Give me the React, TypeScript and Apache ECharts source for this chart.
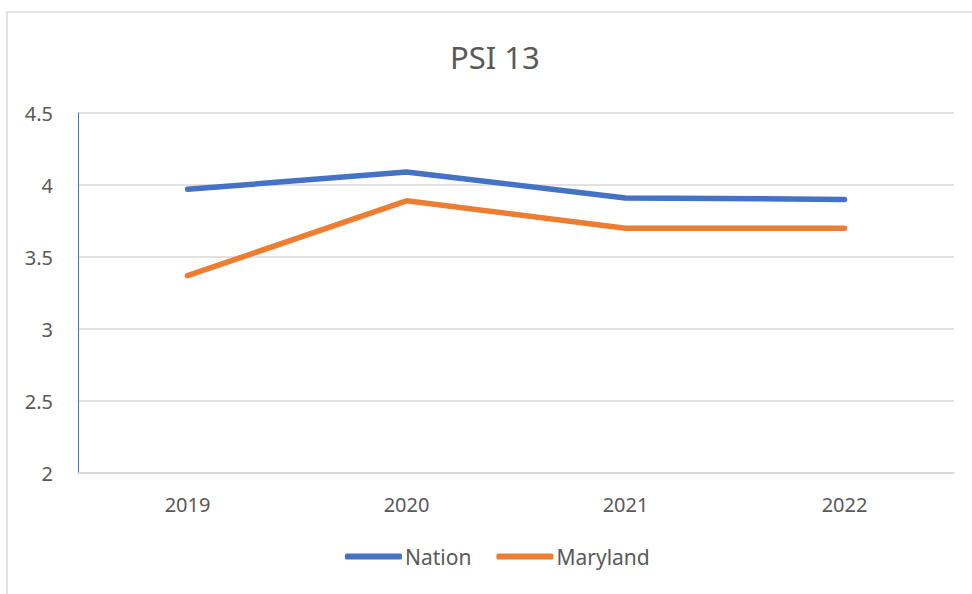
import React, { useEffect, useRef } from "react";
import * as echarts from "echarts";

const categories = ["2019", "2020", "2021", "2022"];
const nation = [3.97, 4.09, 3.91, 3.9];
const maryland = [3.37, 3.89, 3.7, 3.7];
const titleText = "PSI 13";
const seriesNames = ["Nation", "Maryland"];

const FONT = "'Noto Sans', 'Open Sans', sans-serif";
const TXT = "#595959";

export default function App() {
  const ref = useRef<HTMLDivElement>(null);
  useEffect(() => {
    document.body.style.margin = "0";
    const chart = echarts.init(ref.current!, null, { renderer: "svg" });
    chart.setOption({
      animation: false,
      backgroundColor: "#ffffff",
      textStyle: { fontFamily: FONT },
      title: {
        text: titleText,
        left: 445,
        top: 36,
        textStyle: { fontFamily: FONT, fontSize: 31, fontWeight: "normal", color: TXT },
      },
      graphic: [
        {
          type: "rect",
          shape: { x: 7, y: 12, width: 1200, height: 1200 },
          style: { fill: "none", stroke: "#d9d9d9", lineWidth: 1.5 },
          silent: true,
          z: -1,
        },
      ],
      legend: {
        bottom: 22,
        left: 340,
        icon: "roundRect",
        itemWidth: 57,
        itemHeight: 6,
        itemGap: 25,
        textStyle: { fontFamily: FONT, fontSize: 21, color: TXT, padding: [0, 0, 0, -2] },
        data: seriesNames,
      },
      grid: { left: 78, right: 18, top: 113, bottom: 121, containLabel: false },
      xAxis: {
        type: "category",
        data: categories,
        boundaryGap: true,
        axisLine: { show: true, lineStyle: { color: "#d9d9d9", width: 1.5 } },
        axisTick: { show: false },
        axisLabel: { fontFamily: FONT, fontSize: 20, color: TXT, margin: 21 },
      },
      yAxis: {
        type: "value",
        min: 2,
        max: 4.5,
        interval: 0.5,
        axisLine: { show: true, lineStyle: { color: "#4472C4", width: 1 } },
        axisTick: { show: false },
        splitLine: { show: true, lineStyle: { color: "#d9d9d9", width: 1.5 } },
        axisLabel: { fontFamily: FONT, fontSize: 20, color: TXT, margin: 25 },
      },
      series: [
        {
          name: seriesNames[0],
          type: "line",
          data: nation,
          symbol: "none",
          lineStyle: { color: "#4472C4", width: 5.5, cap: "round", join: "round" },
          itemStyle: { color: "#4472C4" },
        },
        {
          name: seriesNames[1],
          type: "line",
          data: maryland,
          symbol: "none",
          lineStyle: { color: "#ED7D31", width: 5.5, cap: "round", join: "round" },
          itemStyle: { color: "#ED7D31" },
        },
      ],
    });
    return () => chart.dispose();
  }, []);
  return <div ref={ref} style={{ width: 972, height: 594 }} />;
}
